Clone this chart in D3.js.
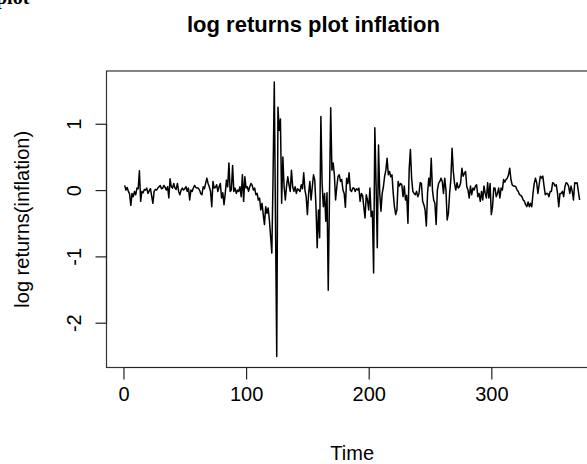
<!DOCTYPE html>
<html>
<head>
<meta charset="utf-8">
<script src="https://cdnjs.cloudflare.com/ajax/libs/d3/7.8.5/d3.min.js"></script>
<style>
body { margin: 0; background: #fff; overflow: hidden; }
svg { display: block; font-family: "Liberation Sans", Arial, sans-serif; }
</style>
</head>
<body>
<svg id="chart" width="587" height="464"></svg>
<script>
var title = 'log returns plot inflation';
var xLabel = 'Time';
var yLabel = 'log returns(inflation)';
var xTicks = [0, 100, 200, 300];
var yTicks = [-2, -1, 0, 1];
var startTime = 1;

// log returns, one value per period
var returnsA = [
    0.07, 0.00, 0.04, -0.02, -0.06, -0.23, -0.05, -0.10, -0.02, -0.07,
    0.03, 0.02, 0.29, -0.17, -0.02, -0.04, 0.01, 0.00, 0.03, -0.05,
    -0.01, 0.02, -0.09, -0.20, -0.02, 0.01, 0.00, 0.03, 0.05, 0.07,
    0.02, 0.03, 0.07, 0.04, 0.00, 0.05, -0.12, 0.17, 0.05, 0.03,
    0.10, 0.03, 0.01, 0.10, -0.02, -0.07, 0.00, 0.03, 0.00, 0.02,
    0.05, -0.02, 0.03, -0.15, 0.00, -0.02, 0.03, 0.07, 0.04, 0.03,
    0.03, 0.00, -0.05, -0.07, 0.05, 0.02, 0.10, 0.18, 0.10, 0.05,
    -0.02, -0.25, 0.13, 0.03, 0.04, 0.08, -0.02, 0.05, 0.10, -0.12,
    -0.04, -0.22, -0.05, 0.15, 0.05, 0.41, -0.02, 0.00, 0.37, -0.02,
    0.03, -0.05, 0.00, -0.02, 0.05, -0.10, 0.23, -0.17, 0.20, 0.03
];
var returnsB = [
    0.05, -0.02, 0.05, 0.10, 0.07, 0.00, 0.03, -0.07, -0.05, -0.15,
    -0.12, -0.30, -0.20, -0.37, -0.52, -0.25, -0.35, -0.27, -0.45, -0.70,
    -0.95, 0.20, 1.63, -0.50, -2.51, 1.25, 0.90, 1.07, -0.20, 0.50,
    0.05, -0.15, 0.06, 0.20, 0.08, -0.02, 0.30, 0.05, -0.02, 0.05,
    -0.05, 0.02, 0.00, -0.02, 0.08, 0.02, 0.26, 0.00, -0.10, -0.37,
    -0.05, 0.13, -0.15, 0.05, 0.23, 0.15, -0.25, -0.87, -0.30, -0.72,
    1.11, 0.10, -0.25, -0.05, -0.47, -0.04, -1.51, -0.10, 1.24, 0.30,
    0.41, 0.23, -0.15, 0.05, 0.21, 0.23, 0.13, 0.16, 0.00, -0.05,
    -0.26, 0.18, 0.10, 0.26, 0.00, -0.02, 0.03, 0.03, -0.02, 0.02,
    0.00, 0.03, -0.17, -0.05, -0.08, -0.25, -0.42, -0.07, -0.15, -0.30
];
var returnsC = [
    0.03, -0.40, -0.32, -1.25, 0.94, 0.10, -0.87, 0.68, -0.05, -0.32,
    -0.05, 0.05, 0.21, 0.30, 0.48, 0.23, 0.28, 0.20, 0.23, -0.05,
    -0.25, -0.37, -0.30, 0.13, 0.06, 0.10, 0.08, -0.10, 0.06, -0.15,
    -0.08, -0.50, 0.31, 0.61, 0.18, -0.02, -0.05, -0.07, -0.02, -0.10,
    -0.05, 0.11, 0.10, -0.17, -0.22, -0.30, -0.54, -0.05, 0.18, 0.06,
    0.48, 0.00, -0.15, -0.20, -0.52, 0.00, 0.10, 0.13, 0.18, 0.13,
    -0.05, 0.18, 0.00, -0.45, -0.35, -0.05, 0.16, 0.63, 0.28, 0.10,
    0.00, 0.11, 0.03, 0.05, 0.11, 0.33, 0.21, 0.25, 0.28, 0.05,
    0.00, -0.12, 0.06, -0.07, 0.03, 0.00, 0.06, 0.08, -0.10, -0.05,
    -0.17, -0.02, -0.15, 0.06, -0.05, -0.12, 0.11, -0.12, 0.10, -0.37
];
var returnsD = [
    -0.25, 0.03, 0.03, -0.10, -0.05, 0.03, -0.12, 0.03, 0.00, 0.16,
    0.12, 0.16, 0.18, 0.23, 0.33, 0.16, 0.08, 0.06, 0.06, 0.05,
    0.00, -0.02, -0.07, -0.08, -0.10, -0.15, -0.17, -0.22, -0.25, -0.18,
    -0.25, -0.20, -0.25, -0.05, 0.10, 0.18, 0.11, -0.05, 0.08, 0.21,
    0.18, 0.21, 0.06, -0.07, -0.05, -0.05, -0.10, -0.02, -0.02, 0.11,
    0.10, 0.06, 0.08, -0.05, -0.25, -0.05, -0.05, -0.02, -0.10, 0.05,
    0.11, 0.10, 0.06, -0.05, 0.06, -0.02, -0.15, 0.11, 0.10, 0.11,
    -0.02, -0.15
];

Plot = {};

Plot.init = function() {
    this.svg = d3.select('#chart');
    this.values = returnsA.concat(returnsB, returnsC, returnsD);
    this.points = this.values.map(function(v, i) {
        return {t: startTime + i, v: v};
    });

    // R pads both axis ranges by 4%
    var tExt = d3.extent(this.points, function(d) { return d.t; });
    var vExt = d3.extent(this.values);
    var tPad = (tExt[1] - tExt[0]) * 0.04,
        vPad = (vExt[1] - vExt[0]) * 0.04;

    this.box = {left: 106.5, top: 71, right: 597.8, bottom: 367.5};
    this.x = d3.scaleLinear()
        .domain([tExt[0] - tPad, tExt[1] + tPad])
        .range([this.box.left, this.box.right]);
    this.y = d3.scaleLinear()
        .domain([vExt[0] - vPad, vExt[1] + vPad])
        .range([this.box.bottom, this.box.top]);

    this.drawFrame();
    this.drawSeries();
    this.drawText();
};


Plot.drawFrame = function() {
    var self = this;
    var b = self.box;
    self.svg.append('rect')
        .attr('x', b.left)
        .attr('y', b.top)
        .attr('width', b.right - b.left)
        .attr('height', b.bottom - b.top)
        .attr('fill', 'none')
        .attr('stroke', '#333')
        .attr('stroke-width', 1.2);

    var xAxis = d3.axisBottom(self.x)
        .tickValues(xTicks)
        .tickSize(12)
        .tickPadding(7)
        .tickFormat(d3.format('d'));
    var gx = self.svg.append('g')
        .attr('transform', 'translate(0,' + b.bottom + ')')
        .call(xAxis);
    gx.select('.domain')
        .attr('d', 'M' + self.x(xTicks[0]) + ',0H' + self.x(xTicks[xTicks.length - 1]));

    var yAxis = d3.axisLeft(self.y)
        .tickValues(yTicks)
        .tickSize(11)
        .tickFormat(function(d) { return String(d); });
    var gy = self.svg.append('g')
        .attr('transform', 'translate(' + b.left + ',0)')
        .call(yAxis);
    gy.select('.domain')
        .attr('d', 'M0,' + self.y(yTicks[0]) + 'V' + self.y(yTicks[yTicks.length - 1]));
    // tick labels in R's default style: parallel to the axis
    gy.selectAll('.tick text')
        .attr('x', null)
        .attr('dy', null)
        .attr('text-anchor', 'middle')
        .attr('transform', 'translate(-26,0) rotate(-90)');

    self.svg.selectAll('.domain, .tick line')
        .attr('stroke', '#222')
        .attr('stroke-width', 1.2);
    self.svg.selectAll('.tick text')
        .attr('fill', '#000')
        .style('font-size', '20px')
        .style('font-family', '"Liberation Sans", Arial, sans-serif');
    gx.selectAll('.tick text').attr('dy', '0.71em');
};


Plot.drawSeries = function() {
    var self = this;
    var line = d3.line()
        .x(function(d) { return self.x(d.t); })
        .y(function(d) { return self.y(d.v); });

    self.svg.append('path')
        .datum(self.points)
        .attr('d', line)
        .attr('fill', 'none')
        .attr('stroke', '#000')
        .attr('stroke-width', 1.5)
        .attr('stroke-linejoin', 'round');
};


Plot.drawText = function() {
    var self = this;
    var b = self.box;

    self.svg.append('text')
        .attr('x', 313.5)
        .attr('y', 32.3)
        .attr('text-anchor', 'middle')
        .style('font-size', '22px')
        .style('font-weight', 'bold')
        .text(title);

    self.svg.append('text')
        .attr('x', (b.left + b.right) / 2)
        .attr('y', 460)
        .attr('text-anchor', 'middle')
        .style('font-size', '20px')
        .text(xLabel);

    self.svg.append('text')
        .attr('transform', 'translate(29,' + (b.top + b.bottom) / 2 + ') rotate(-90)')
        .attr('text-anchor', 'middle')
        .style('font-size', '20px')
        .text(yLabel);

    // leftover caption of the page the figure was cut from
    self.svg.append('text')
        .attr('x', -4)
        .attr('y', 4)
        .style('font-family', '"Liberation Serif", "Times New Roman", serif')
        .style('font-size', '20px')
        .style('font-weight', 'bold')
        .text('plot');
};

Plot.init();
</script>
</body>
</html>
